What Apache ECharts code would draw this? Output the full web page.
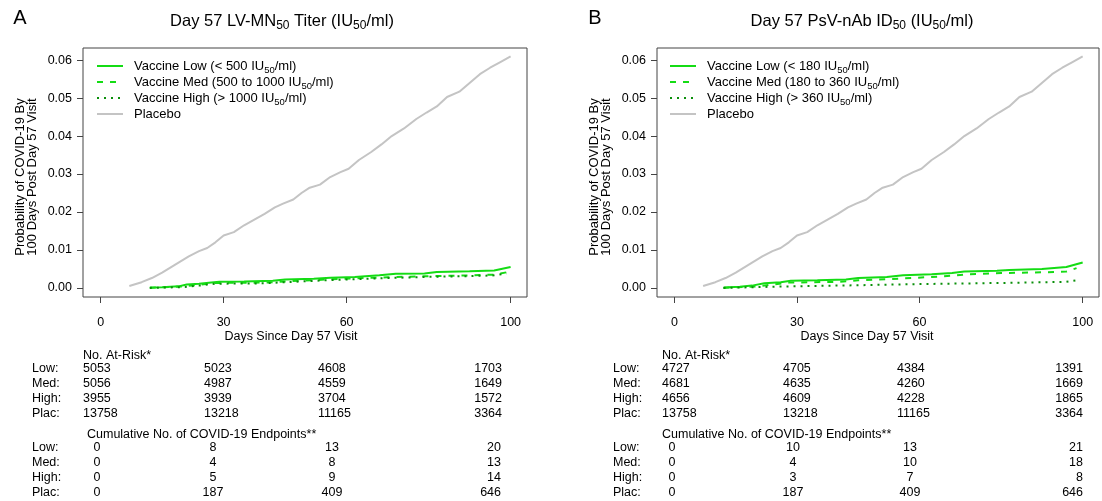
<!DOCTYPE html>
<html>
<head>
<meta charset="utf-8">
<script src="https://cdn.jsdelivr.net/npm/echarts@6/dist/echarts.min.js"></script>
<style>
  html, body { margin: 0; padding: 0; background: #fff; }
  #chart { width: 1102px; height: 501px; }
</style>
</head>
<body>
<div id="chart"></div>
<script>
// ---- Cumulative incidence curves (days since Day 57 visit, probability) ----
const placeboDays = [7, 10, 12.5, 15, 18, 21.5, 24, 26, 28, 30, 32.5, 35, 37.5, 40, 42.5, 44.5, 47, 49, 51, 53.5, 56, 58.5, 60.5, 63, 66, 68.5, 71, 74, 77, 79.5, 82, 84.5, 87.5, 90, 92.5, 95, 97.5, 100];
const placeboProb = [0.0005, 0.0015, 0.0026, 0.0040, 0.0060, 0.0083, 0.0097, 0.0105, 0.0120, 0.0138, 0.0147, 0.0165, 0.0180, 0.0195, 0.0212, 0.0222, 0.0233, 0.0250, 0.0264, 0.0272, 0.0292, 0.0305, 0.0314, 0.0337, 0.0358, 0.0378, 0.0400, 0.0420, 0.0445, 0.0462, 0.0478, 0.0503, 0.0517, 0.0540, 0.0563, 0.0580, 0.0595, 0.0610];

// Panel A: LV-MN50 titer tertiles
const lowDaysA = [12, 15, 19, 21, 24, 27, 29, 35, 42, 45, 52, 56, 62, 68, 72, 79, 82, 90, 96, 100];
const lowProbA = [0.0001, 0.0002, 0.0004, 0.0009, 0.0011, 0.0014, 0.0016, 0.0017, 0.0019, 0.0022, 0.0024, 0.0027, 0.0029, 0.0033, 0.0037, 0.0038, 0.0042, 0.0044, 0.0046, 0.0055];
const medDaysA = [12, 20, 24, 28, 40, 45, 55, 62, 70, 80, 90, 96, 99];
const medProbA = [0.0000, 0.0004, 0.0008, 0.0013, 0.0014, 0.0017, 0.0022, 0.0025, 0.0028, 0.0031, 0.0033, 0.0035, 0.0041];
const highDaysA = [12, 20, 24, 28, 40, 45, 55, 62, 70, 80, 90, 96, 99];
const highProbA = [0.0000, 0.0002, 0.0006, 0.0011, 0.0012, 0.0015, 0.0020, 0.0023, 0.0026, 0.0029, 0.0031, 0.0033, 0.0038];

// Panel B: PsV-nAb ID50 tertiles
const lowDaysB = [12, 16, 19, 22, 26, 28.5, 35, 42, 45, 52, 56, 63, 68, 71, 79, 82, 90, 96, 100];
const lowProbB = [0.0001, 0.0003, 0.0006, 0.0012, 0.0015, 0.0019, 0.0020, 0.0022, 0.0026, 0.0029, 0.0033, 0.0036, 0.0039, 0.0043, 0.0045, 0.0047, 0.0050, 0.0055, 0.0067];
const medDaysB = [12, 20, 24, 28, 40, 45, 52, 58, 65, 72, 80, 90, 96, 98.5];
const medProbB = [0.0000, 0.0004, 0.0009, 0.0014, 0.0016, 0.0020, 0.0023, 0.0026, 0.0030, 0.0036, 0.0039, 0.0041, 0.0043, 0.0052];
const highDaysB = [12, 20, 28, 45, 60, 80, 96, 98.5];
const highProbB = [0.0000, 0.0002, 0.0004, 0.0007, 0.0010, 0.0013, 0.0016, 0.0020];

// ---- Axis ticks ----
const xTicks = [0, 30, 60, 100];
const yTicks = [0, 0.01, 0.02, 0.03, 0.04, 0.05, 0.06];

// ---- Risk tables ----
const rowLabels = ['Low:', 'Med:', 'High:', 'Plac:'];
const atRiskA = [[5053, 5023, 4608, 1703], [5056, 4987, 4559, 1649], [3955, 3939, 3704, 1572], [13758, 13218, 11165, 3364]];
const eventsA = [[0, 8, 13, 20], [0, 4, 8, 13], [0, 5, 9, 14], [0, 187, 409, 646]];
const atRiskB = [[4727, 4705, 4384, 1391], [4681, 4635, 4260, 1669], [4656, 4609, 4228, 1865], [13758, 13218, 11165, 3364]];
const eventsB = [[0, 10, 13, 21], [0, 4, 10, 18], [0, 3, 7, 8], [0, 187, 409, 646]];

// ---- Labels ----
const legendNamesA = ['Vaccine Low (< 500 IU50/ml)', 'Vaccine Med (500 to 1000 IU50/ml)', 'Vaccine High (> 1000 IU50/ml)', 'Placebo'];
const legendNamesB = ['Vaccine Low (< 180 IU50/ml)', 'Vaccine Med (180 to 360 IU50/ml)', 'Vaccine High (> 360 IU50/ml)', 'Placebo'];

const FONT = '"Liberation Sans", Arial, Helvetica, sans-serif';
const GREEN = '#14dc14';
const DARK_GREEN = '#0a8f0a';
const GREY = '#c4c4c4';

const zip = (xs, ys) => xs.map((x, i) => [x, ys[i]]);

const panels = [
  {
    letter: 'A', letterX: 20, titleX: 282,
    title: '{m|Day 57 LV-MN}{s|50}{m| Titer (IU}{s|50}{m|/ml)}',
    gridLeft: 83, gridRight: 527,
    legendLeft: 96, names: legendNamesA,
    curves: [[lowDaysA, lowProbA], [medDaysA, medProbA], [highDaysA, highProbA], [placeboDays, placeboProb]],
    atRisk: atRiskA, events: eventsA,
    yTitleX: 26, xTitleX: 291, rowLabelX: 32,
    riskCols: [83, 204, 318], riskRight: 502, riskHeadX: 83,
    eventCols: [97, 213, 332], eventRight: 501, eventHeadX: 87
  },
  {
    letter: 'B', letterX: 595, titleX: 862,
    title: '{m|Day 57 PsV-nAb ID}{s|50}{m| (IU}{s|50}{m|/ml)}',
    gridLeft: 657, gridRight: 1099,
    legendLeft: 669, names: legendNamesB,
    curves: [[lowDaysB, lowProbB], [medDaysB, medProbB], [highDaysB, highProbB], [placeboDays, placeboProb]],
    atRisk: atRiskB, events: eventsB,
    yTitleX: 600, xTitleX: 867, rowLabelX: 613,
    riskCols: [662, 783, 897], riskRight: 1083, riskHeadX: 662,
    eventCols: [672, 793, 910], eventRight: 1083, eventHeadX: 662
  }
];

const GRID_TOP = 48, GRID_BOTTOM = 297, W = 1102, H = 501;

const lineStyles = [
  { color: GREEN, width: 2, type: 'solid' },
  { color: GREEN, width: 2, type: [6, 7] },
  { color: DARK_GREEN, width: 2, type: [2, 5] },
  { color: GREY, width: 2, type: 'solid' }
];

const grids = [], xAxes = [], yAxes = [], series = [], legends = [], graphics = [];

function addText(x, y, text, extra) {
  graphics.push({
    type: 'text', x: x, y: y, silent: true,
    style: Object.assign({
      text: text, fontFamily: FONT, fontSize: 12.5, fill: '#000',
      align: 'left', verticalAlign: 'middle'
    }, extra || {})
  });
}

panels.forEach((p, k) => {
  grids.push({
    left: p.gridLeft, width: p.gridRight - p.gridLeft,
    top: GRID_TOP, height: GRID_BOTTOM - GRID_TOP,
    show: true, borderColor: '#444', borderWidth: 1, backgroundColor: 'transparent'
  });
  xAxes.push({
    type: 'value', gridIndex: k, min: -4.3, max: 104, position: 'bottom',
    axisLine: { show: false, onZero: false },
    splitLine: { show: false },
    axisTick: { show: true, inside: false, length: 6, customValues: xTicks, lineStyle: { color: '#444' } },
    axisLabel: { customValues: xTicks, margin: 19, color: '#000', fontFamily: FONT, fontSize: 12.5 }
  });
  yAxes.push({
    type: 'value', gridIndex: k, min: -0.0024, max: 0.0632, position: 'left',
    axisLine: { show: false, onZero: false },
    splitLine: { show: false },
    axisTick: { show: true, inside: false, length: 6, customValues: yTicks, lineStyle: { color: '#444' } },
    axisLabel: { customValues: yTicks, margin: 11, color: '#000', fontFamily: FONT, fontSize: 12.5,
      formatter: v => v.toFixed(2) }
  });

  p.curves.forEach((c, i) => {
    series.push({
      type: 'line', name: p.names[i], xAxisIndex: k, yAxisIndex: k,
      data: zip(c[0], c[1]), symbol: 'none', showSymbol: false,
      lineStyle: lineStyles[i], itemStyle: { color: lineStyles[i].color },
      silent: true, animation: false, z: i === 3 ? 2 : 3
    });
  });

  legends.push({
    data: p.names, orient: 'vertical', left: p.legendLeft, top: 57, padding: 0,
    itemWidth: 26, itemHeight: 14, itemGap: -2, selectedMode: false,
    itemStyle: { opacity: 0 },
    // every row carries a subscript-height token so all rows share one height
    formatter: name => '{g|}' + name.replace(/IU50/g, 'IU{s|50}') + '{s| }',
    textStyle: {
      color: '#000', fontFamily: FONT, fontSize: 13, lineHeight: 15,
      rich: {
        g: { width: 6, lineHeight: 15 },
        s: { fontFamily: FONT, fontSize: 9.5, lineHeight: 7, padding: [8, 0, 0, 0], color: '#000' }
      }
    }
  });

  // panel letter and title
  addText(p.letterX, 18, p.letter, { fontSize: 20, align: 'center' });
  addText(p.titleX, 21, p.title, {
    align: 'center',
    rich: {
      m: { fontFamily: FONT, fontSize: 16.5, lineHeight: 20, fill: '#000' },
      s: { fontFamily: FONT, fontSize: 12, lineHeight: 10, padding: [10, 0, 0, 0], fill: '#000' }
    }
  });

  // y-axis title (two lines, rotated)
  graphics.push({
    type: 'text', x: p.yTitleX, y: 177, rotation: Math.PI / 2, silent: true,
    style: {
      text: 'Probability of COVID-19 By\n100 Days Post Day 57 Visit',
      fontFamily: FONT, fontSize: 13, lineHeight: 12, fill: '#000',
      align: 'center', verticalAlign: 'middle'
    }
  });

  // x-axis title
  addText(p.xTitleX, 337, 'Days Since Day 57 Visit', { align: 'center' });

  // number at risk
  const riskRows = [369, 384, 398.5, 414];
  addText(p.riskHeadX, 356, 'No. At-Risk*');
  p.atRisk.forEach((row, r) => {
    addText(p.rowLabelX, riskRows[r], rowLabels[r]);
    row.forEach((v, c) => {
      if (c < 3) addText(p.riskCols[c], riskRows[r], String(v));
      else addText(p.riskRight, riskRows[r], String(v), { align: 'right' });
    });
  });

  // cumulative endpoints
  const eventRows = [448, 463, 477.5, 492.5];
  addText(p.eventHeadX, 435, 'Cumulative No. of COVID-19 Endpoints**');
  p.events.forEach((row, r) => {
    addText(p.rowLabelX, eventRows[r], rowLabels[r]);
    row.forEach((v, c) => {
      if (c < 3) addText(p.eventCols[c], eventRows[r], String(v), { align: 'center' });
      else addText(p.eventRight, eventRows[r], String(v), { align: 'right' });
    });
  });
});

const chart = echarts.init(document.getElementById('chart'), null, { renderer: 'canvas', width: W, height: H });
chart.setOption({
  animation: false,
  backgroundColor: '#fff',
  textStyle: { fontFamily: FONT },
  grid: grids,
  xAxis: xAxes,
  yAxis: yAxes,
  legend: legends,
  series: series,
  graphic: graphics
});
</script>
</body>
</html>
